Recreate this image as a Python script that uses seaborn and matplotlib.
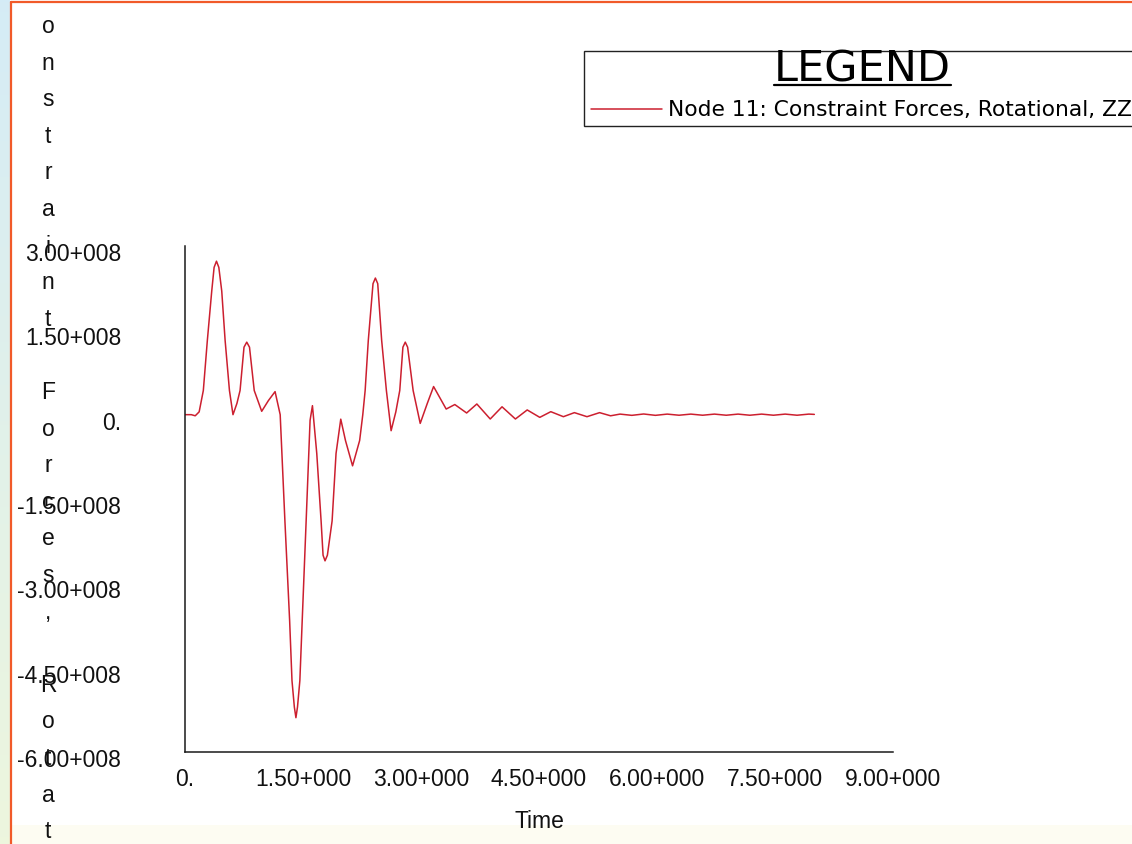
import numpy as np
import pandas as pd
import matplotlib
matplotlib.use("Agg")
import matplotlib.pyplot as plt
import matplotlib.transforms as mtransforms
from matplotlib.lines import Line2D
from matplotlib.patches import Rectangle
import seaborn as sns

# ---------------- data ----------------
time = [0.00, 0.08, 0.13, 0.18, 0.233, 0.284, 0.34, 0.37, 0.40, 0.43, 0.467, 0.51, 0.565, 0.61,
        0.66, 0.70, 0.75, 0.785, 0.82, 0.88, 0.975, 1.06, 1.145, 1.21, 1.27, 1.33, 1.36, 1.39, 1.41,
        1.43, 1.46, 1.49, 1.54, 1.59, 1.62, 1.675, 1.73, 1.755, 1.78, 1.81, 1.87, 1.92, 1.98, 2.04,
        2.13, 2.22, 2.26, 2.29, 2.33, 2.39, 2.42, 2.45, 2.50, 2.56, 2.62, 2.68, 2.73, 2.77, 2.80,
        2.83, 2.90, 2.99, 3.08, 3.16, 3.32, 3.43, 3.58, 3.71, 3.88, 4.03, 4.20, 4.35,
        4.51, 4.65, 4.81, 4.95, 5.11, 5.27, 5.41, 5.53, 5.68, 5.83, 5.98, 6.13,
        6.28, 6.43, 6.58, 6.73, 6.88, 7.03, 7.18, 7.33, 7.48, 7.63, 7.78, 7.93, 8.00]
force = [0.00e8, 0.00e8, -0.02e8, 0.05e8, 0.43e8, 1.32e8, 2.20e8, 2.62e8, 2.73e8, 2.62e8, 2.20e8, 1.32e8, 0.43e8, 0.00e8,
         0.20e8, 0.43e8, 1.20e8, 1.29e8, 1.20e8, 0.43e8, 0.06e8, 0.25e8, 0.41e8, 0.00e8, -1.89e8, -3.66e8, -4.73e8, -5.20e8, -5.39e8,
         -5.20e8, -4.73e8, -3.66e8, -1.89e8, -0.10e8, 0.16e8, -0.69e8, -1.89e8, -2.50e8, -2.60e8, -2.50e8, -1.89e8, -0.69e8, -0.08e8, -0.46e8,
         -0.91e8, -0.46e8, 0.00e8, 0.43e8, 1.32e8, 2.33e8, 2.43e8, 2.33e8, 1.32e8, 0.43e8, -0.285e8, 0.05e8, 0.43e8, 1.20e8, 1.29e8,
         1.20e8, 0.43e8, -0.155e8, 0.20e8, 0.50e8, 0.10e8, 0.18e8, 0.03e8, 0.19e8, -0.077e8, 0.14e8, -0.077e8, 0.084e8,
         -0.048e8, 0.053e8, -0.036e8, 0.036e8, -0.036e8, 0.036e8, -0.02e8, 0.01e8, -0.012e8, 0.012e8, -0.012e8, 0.01e8,
         -0.01e8, 0.01e8, -0.01e8, 0.01e8, -0.01e8, 0.01e8, -0.01e8, 0.01e8, -0.01e8, 0.01e8, -0.01e8, 0.01e8, 0.005e8]

x_ticks = [0.0, 1.5, 3.0, 4.5, 6.0, 7.5, 9.0]
x_tick_labels = ["0.", "1.50+000", "3.00+000", "4.50+000", "6.00+000", "7.50+000", "9.00+000"]
y_ticks = [3.0e8, 1.5e8, 0.0, -1.5e8, -3.0e8, -4.5e8, -6.0e8]
y_tick_labels = ["3.00+008", "1.50+008", "0.", "-1.50+008", "-3.00+008", "-4.50+008", "-6.00+008"]

x_label = "Time"
y_label = "Constraint Forces, Rotational, ZZ"
legend_title = "LEGEND"
series_label = "Node 11: Constraint Forces, Rotational, ZZ"

# ---------------- style ----------------
sns.set_style("white")
plt.rcParams["font.family"] = ["Liberation Sans", "DejaVu Sans"]

W, H = 1132, 845
fig = plt.figure(figsize=(W / 100, H / 100), dpi=100)
fig.patch.set_facecolor("white")

def fx(px):
    return px / W

def fy(py):
    return 1 - py / H

RED = "#cc1f2f"
FS = 16.5

# background decorations (page frame)
grad_ax = fig.add_axes([0, 0, fx(10), 1], zorder=-10)
grad = np.linspace(0, 1, 256)[:, None]
c_top = np.array([0.835, 0.925, 0.965])
c_bot = np.array([0.930, 0.965, 0.870])
img = c_top[None, None, :] * (1 - grad[:, :, None]) + c_bot[None, None, :] * grad[:, :, None]
grad_ax.imshow(img, aspect="auto", extent=[0, 1, 0, 1])
grad_ax.set_axis_off()
fig.add_artist(Rectangle((fx(11), 0), 1 - fx(11), (845 - 826) / H,
                         transform=fig.transFigure, facecolor="#fdfcf2", edgecolor="none", zorder=-5))
fig.add_artist(Line2D([fx(10.5), fx(10.5)], [0, fy(3)], transform=fig.transFigure,
                      color="#f15a29", linewidth=1.6, zorder=5))
fig.add_artist(Line2D([fx(10.5), 1], [fy(3), fy(3)], transform=fig.transFigure,
                      color="#f15a29", linewidth=1.6, zorder=5))

# ---------------- main axes ----------------
ax = fig.add_axes([fx(185), fy(753), fx(893) - fx(185), fy(247) - fy(753)])
ax.set_facecolor("none")

df = pd.DataFrame({"Time": time, "Force": force})
sns.lineplot(data=df, x="Time", y="Force", ax=ax, color=RED, linewidth=1.1,
             sort=False, estimator=None, legend=False)

ax.set_xlim(0, 9)
ax.set_ylim(-6.0e8, 3.0e8)
ax.set_xticks(x_ticks)
ax.set_xticklabels(x_tick_labels)
ax.set_yticks(y_ticks)
ax.set_yticklabels(y_tick_labels, ha="right")

for s in ["top", "right"]:
    ax.spines[s].set_visible(False)
for s in ["left", "bottom"]:
    ax.spines[s].set_color("#1a1a1a")
    ax.spines[s].set_linewidth(1.1)

ax.tick_params(axis="y", direction="out", length=8.6, width=1.1, color="#1a1a1a",
               pad=37.4, labelsize=FS, labelcolor="#111111")
ax.tick_params(axis="x", direction="out", length=8.0, width=1.1, color="#1a1a1a",
               pad=2.6, labelsize=FS, labelcolor="#111111")

offset = mtransforms.ScaledTranslation(0, -5 / 100, fig.dpi_scale_trans)
for lab in ax.get_yticklabels():
    lab.set_transform(lab.get_transform() + offset)

ax.set_xlabel(x_label, fontsize=FS, color="#111111", va="center")
ax.xaxis.set_label_coords(0.5, (753 - 822) / (753 - 247))
ax.set_ylabel("")

# vertical stacked y label (one character per line, clipped by the canvas)
for i, ch in enumerate(y_label):
    baseline = 33 + (i - 1) * 36.6
    if ch.strip() == "":
        continue
    fig.text(fx(48), fy(baseline), ch, ha="center", va="baseline", fontsize=FS, color="#111111")

# ---------------- legend ----------------
fig.add_artist(Rectangle((fx(584), fy(127)), fx(1180) - fx(584), fy(52) - fy(127),
                         transform=fig.transFigure, facecolor="white", edgecolor="#222222",
                         linewidth=1.0, zorder=6))
title = fig.text(fx(862), fy(82), legend_title, ha="center", va="baseline",
                 fontsize=31, family="DejaVu Sans", color="black", zorder=7)
fig.canvas.draw()
tb = title.get_window_extent()
fig.add_artist(Line2D([tb.x0 / W, tb.x1 / W], [fy(86), fy(86)], transform=fig.transFigure,
                      color="black", linewidth=1.6, zorder=7))

fig.add_artist(Line2D([fx(591), fx(662)], [fy(110), fy(110)], transform=fig.transFigure,
                      color=RED, linewidth=1.1, zorder=7))
entry = fig.text(fx(668), fy(110), series_label, ha="left", va="center",
                 fontsize=12, family="DejaVu Sans", color="black", zorder=7)
fig.canvas.draw()
eb = entry.get_window_extent()
entry.set_fontsize(12 * (1130 - 668) / eb.width)

fig.savefig("out.png", dpi=100, facecolor=fig.get_facecolor())
